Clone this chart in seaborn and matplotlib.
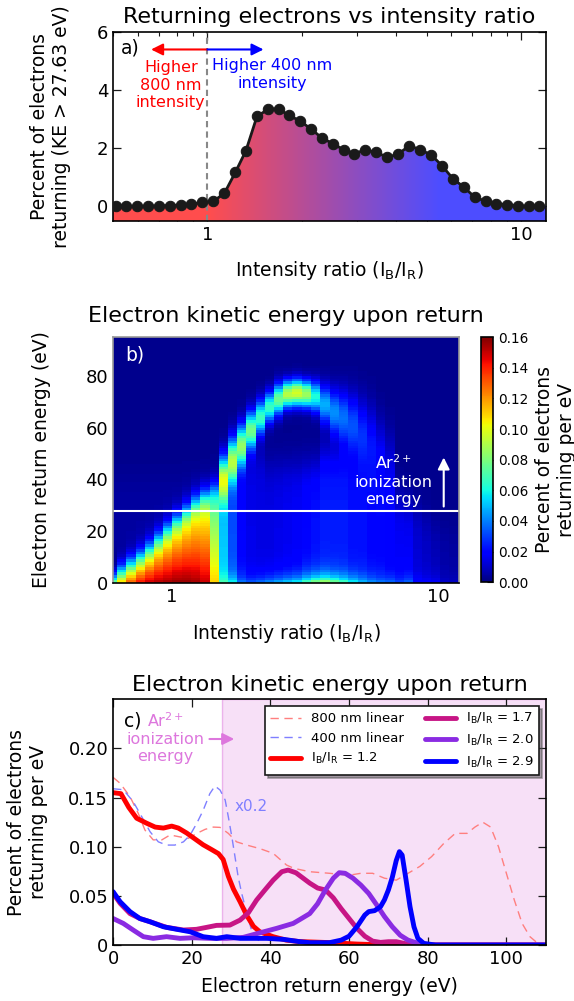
import numpy as np
import matplotlib
matplotlib.use("Agg")
import matplotlib.pyplot as plt
import seaborn as sns
from matplotlib.path import Path
from matplotlib.colors import LinearSegmentedColormap
from matplotlib.ticker import NullFormatter, LogLocator

# ---------------- data: panel a ----------------
ratio_a = [0.511, 0.550, 0.596, 0.646, 0.701, 0.758, 0.821, 0.888, 0.963, 1.044,
           1.132, 1.227, 1.327, 1.439, 1.560, 1.686, 1.823, 1.977, 2.143, 2.317,
           2.512, 2.723, 2.944, 3.192, 3.461, 3.752, 4.067, 4.409, 4.781, 5.183,
           5.605, 6.077, 6.573, 7.126, 7.726, 8.353, 9.03, 9.79, 10.58, 11.44]
pct_a = [0.0, 0.0, 0.0, 0.01, 0.02, 0.03, 0.05, 0.08, 0.14, 0.18,
         0.45, 1.17, 1.92, 3.10, 3.34, 3.36, 3.13, 2.94, 2.66, 2.36,
         2.16, 1.95, 1.82, 1.95, 1.86, 1.69, 1.81, 2.09, 1.95, 1.77,
         1.40, 0.95, 0.67, 0.32, 0.18, 0.10, 0.06, 0.03, 0.0, 0.0]
a_yticks = [0, 2, 4, 6]
a_xticks = [1, 10]
a_xticklabels = ["1", "10"]

# ---------------- data: panel b (per-column spectrum parameters) ----------------
hm_ratio = [0.596, 0.646, 0.701, 0.758, 0.821, 0.888, 0.963, 1.044, 1.132, 1.227,
            1.327, 1.439, 1.560, 1.686, 1.823, 1.977, 2.143, 2.317, 2.512, 2.723,
            2.944, 3.192, 3.461, 3.752, 4.067, 4.409, 4.781, 5.183, 5.605, 6.077,
            6.573, 7.126, 7.726, 8.353, 9.03, 9.79, 10.58, 11.44]
plat_amp = [0.10, 0.115, 0.13, 0.14, 0.145, 0.148, 0.15, 0.152, 0.152, 0.15,
            0.145, 0.105] + [0.0] * 26
plat_cut = [3, 6, 8.5, 11, 14, 17.5, 21, 24.5, 28, 31.5, 34, 37] + [1.0] * 26
ridge_E = [0] * 12 + [40, 47, 53, 59, 64, 68, 71, 73, 73.5, 73, 72, 69, 66, 64,
                      61, 57, 53, 48, 43] + [0] * 7
ridge_amp = [0] * 12 + [0.09, 0.085, 0.08, 0.075, 0.065, 0.065, 0.075, 0.09, 0.095,
                        0.085, 0.06, 0.045, 0.04, 0.035, 0.03, 0.025, 0.02,
                        0.016, 0.012] + [0] * 7
ridge_w = [1] * 12 + [6, 6, 5.5, 5, 4.5, 4, 4, 3.5, 3.5, 3.5, 4, 5, 6, 7, 8, 9, 10,
                      10, 10] + [1] * 7
low_amp = [0] * 12 + [0.02, 0.03, 0.02, 0.02, 0.025, 0.03, 0.035, 0.04, 0.045, 0.055,
                      0.065, 0.07, 0.06, 0.05, 0.04, 0.03, 0.025, 0.02, 0.02, 0.015,
                      0.02, 0.01, 0.01, 0.01, 0.005, 0.005]
floor_amp = [0.003] * 12 + [0.05, 0.03, 0.018, 0.013, 0.012, 0.012, 0.013, 0.014,
                            0.015, 0.018, 0.02, 0.022, 0.022, 0.022, 0.02, 0.02,
                            0.018, 0.018, 0.016, 0.015, 0.015, 0.01, 0.008, 0.006,
                            0.004, 0.003]
floor_cut = [40] * 12 + [34, 40, 46, 50, 50, 45, 45, 45, 45, 45, 45, 50, 50, 50, 48,
                         45, 42, 38, 35, 32, 30, 28, 25, 22, 20, 20]
base_level = 0.002
b_yticks = [0, 20, 40, 60, 80]
cbar_ticks = [0.00, 0.02, 0.04, 0.06, 0.08, 0.10, 0.12, 0.14, 0.16]
ar_threshold = 27.63

# ---------------- data: panel c ----------------
E_800 = [0, 1.8, 4.3, 6.4, 8.1, 10.2, 12.4, 14.5, 17, 19.1, 21.3, 23.4, 25.5, 27.2,
         29.3, 31.4, 34, 37.4, 40.7, 44.1, 46, 50, 55, 60, 63, 66, 69, 72, 75, 78,
         81, 84, 87, 90, 92, 94, 96, 98, 100, 102, 104, 106, 108, 110]
y_800 = [0.1706, 0.1645, 0.151, 0.134, 0.117, 0.107, 0.107, 0.112, 0.110, 0.1085,
         0.1136, 0.1177, 0.120, 0.1197, 0.1136, 0.105, 0.1017, 0.098, 0.0933, 0.0814,
         0.078, 0.0746, 0.073, 0.071, 0.073, 0.073, 0.068, 0.066, 0.073, 0.080,
         0.090, 0.103, 0.1136, 0.1136, 0.120, 0.125, 0.120, 0.100, 0.073, 0.046,
         0.022, 0.0085, 0.0017, 0.0]
E_400 = [0, 2.6, 5.1, 7.3, 9.4, 11.5, 13.6, 15.7, 17.9, 19.6, 21.3, 22.9, 24.6, 25.9,
         27.2, 28.5, 29.3, 30.2, 31, 31.8, 32.7, 34, 35.2, 36.5, 38.2, 40, 110]
y_400 = [0.159, 0.158, 0.146, 0.1305, 0.1153, 0.105, 0.1017, 0.1017, 0.105, 0.112,
         0.124, 0.137, 0.154, 0.1618, 0.1577, 0.1475, 0.1305, 0.110, 0.0898, 0.0695,
         0.0526, 0.0322, 0.0153, 0.0068, 0.0, 0.0, 0.0]
E_12 = [0, 2, 4, 6, 8.5, 10.7, 12.8, 14.9, 16.6, 18.7, 20.8, 22.9, 25.1, 26.8, 28,
        29.3, 30.6, 32.3, 34, 35.7, 37.3, 40.7, 44, 47.5, 55, 62, 70, 110]
y_12 = [0.155, 0.154, 0.140, 0.129, 0.124, 0.120, 0.119, 0.121, 0.119, 0.114,
        0.108, 0.102, 0.097, 0.093, 0.087, 0.070, 0.057, 0.044, 0.030, 0.019,
        0.0135, 0.0085, 0.005, 0.0035, 0.0025, 0.001, 0.0, 0.0]
E_17 = [0, 1.8, 4.3, 6.8, 9.4, 13.6, 17.9, 21.2, 23.8, 26.3, 29.7, 32.3, 34.4, 36.5,
        38.6, 40.7, 42.9, 44.5, 46.5, 48, 50, 52, 54, 56, 58, 60, 62, 64, 66, 68,
        70, 72, 74, 76, 110]
y_17 = [0.0526, 0.0424, 0.032, 0.027, 0.0237, 0.018, 0.0153, 0.016, 0.018, 0.020,
        0.0203, 0.0254, 0.0329, 0.0458, 0.056, 0.066, 0.0746, 0.0763, 0.0735, 0.069,
        0.063, 0.058, 0.056, 0.048, 0.037, 0.027, 0.017, 0.009, 0.004, 0.0027,
        0.0034, 0.0034, 0.0017, 0.0, 0.0]
E_20 = [0, 2.6, 5.1, 7.7, 10.2, 13.6, 17, 20.4, 24.6, 28.9, 33.1, 37.4, 41.6, 45.8,
        47.5, 50, 52, 54, 56, 57.5, 59, 61, 63, 65, 67, 69, 71, 73, 75, 77, 80, 110]
y_20 = [0.027, 0.022, 0.0153, 0.0085, 0.0068, 0.0085, 0.0068, 0.0074, 0.0068,
        0.0068, 0.0078, 0.0125, 0.017, 0.022, 0.026, 0.032, 0.042, 0.056, 0.068,
        0.0736, 0.073, 0.068, 0.061, 0.0525, 0.041, 0.029, 0.0186, 0.010, 0.005,
        0.0024, 0.0, 0.0]
E_29 = [0, 1.8, 4.3, 6.8, 9.4, 12.8, 16.2, 19.6, 22.9, 26.3, 28.9, 32.3, 35.6, 39.1,
        43.3, 47.5, 50, 55, 58, 60, 62, 64, 65, 66.5, 68, 69, 70, 71, 72, 72.8,
        73.5, 74.5, 75.5, 76.5, 77.5, 79, 82, 110]
y_29 = [0.0543, 0.044, 0.034, 0.027, 0.0237, 0.0186, 0.016, 0.0135, 0.0085, 0.0068,
        0.0085, 0.0068, 0.0068, 0.0068, 0.0058, 0.0034, 0.0024, 0.0024, 0.005, 0.009,
        0.0186, 0.0305, 0.034, 0.035, 0.039, 0.046, 0.056, 0.069, 0.086, 0.095,
        0.0915, 0.066, 0.039, 0.0186, 0.0068, 0.0017, 0.0, 0.0]
c_yticks = [0, 0.05, 0.10, 0.15, 0.20]
c_yticklabels = ["0", "0.05", "0.10", "0.15", "0.20"]
c_xticks = [0, 20, 40, 60, 80, 100]

# ---------------- style ----------------
sns.set_theme(style="ticks")
plt.rcParams["font.family"] = ["DejaVu Sans"]
plt.rcParams["mathtext.fontset"] = "dejavusans"
plt.rcParams["axes.linewidth"] = 1.2
for k in ["text.color", "axes.labelcolor", "xtick.color", "ytick.color",
          "axes.edgecolor"]:
    plt.rcParams[k] = "black"
TICK = 13
LAB = 13.5

fig = plt.figure(figsize=(5.74, 10.01), dpi=100)
fig.patch.set_facecolor("white")


def style_ticks(ax, color="k"):
    ax.tick_params(which="both", direction="in", top=True, right=True,
                   labelsize=TICK, color=color, labelcolor="black")
    ax.tick_params(which="major", length=5.5, width=0.9)
    ax.tick_params(which="minor", length=2.8, width=0.8)


ARROW = "-|>,head_length=0.5,head_width=0.25"

# ================= panel a =================
ax1 = fig.add_axes([0.1970, 0.7792, 0.7537, 0.1888])
ax1.set_xscale("log")
ax1.set_xlim(0.5, 12)
ax1.set_ylim(-0.5, 6)

grad_cmap = LinearSegmentedColormap.from_list("rb", ["#ff4d4d", "#4d4dff"])
gx = np.geomspace(0.5, 12, 400)
gc = np.log10(np.sqrt(gx[:-1] * gx[1:]))
tt = np.clip((gc - np.log10(1.0)) / (np.log10(5.5) - np.log10(1.0)), 0, 1)
gmesh = ax1.pcolormesh(gx, [-0.5, 6], tt[None, :], cmap=grad_cmap, vmin=0, vmax=1,
                       shading="flat", zorder=1)
verts = [(0.5, -0.5), (0.5, pct_a[0])] + list(zip(ratio_a, pct_a)) + \
        [(12, pct_a[-1]), (12, -0.5), (0.5, -0.5)]
gmesh.set_clip_path(Path(verts), ax1.transData)

ax1.axvline(1, color="#888888", lw=1.5, ls=(0, (3, 2)), zorder=2.5)
sns.lineplot(x=ratio_a, y=pct_a, ax=ax1, color="k", lw=2.0, marker="o",
             markersize=7.5, markeredgecolor="k", errorbar=None, zorder=4)

ax1.annotate("", xy=(0.661, 5.4), xytext=(1.0, 5.4),
             arrowprops=dict(arrowstyle=ARROW, color="red", lw=1.5, shrinkA=0,
                             shrinkB=0, mutation_scale=14))
ax1.annotate("", xy=(1.51, 5.4), xytext=(1.0, 5.4),
             arrowprops=dict(arrowstyle=ARROW, color="blue", lw=1.5, shrinkA=0,
                             shrinkB=0, mutation_scale=14))
ax1.text(0.764, 4.17, "Higher\n800 nm\nintensity", color="red", fontsize=11.5,
         ha="center", va="center")
ax1.text(1.607, 4.54, "Higher 400 nm\nintensity", color="blue", fontsize=11.5,
         ha="center", va="center")
ax1.text(0.018, 0.965, "a)", transform=ax1.transAxes, fontsize=13.5,
         ha="left", va="top")

ax1.set_xticks(a_xticks)
ax1.set_xticklabels(a_xticklabels)
ax1.xaxis.set_minor_locator(LogLocator(base=10, subs=np.arange(2, 10)))
ax1.xaxis.set_minor_formatter(NullFormatter())
ax1.set_yticks(a_yticks)
ax1.set_yticklabels([str(v) for v in a_yticks])
style_ticks(ax1)
ax1.set_title("Returning electrons vs intensity ratio", fontsize=16, pad=6.3)
ax1.set_xlabel(r"Intensity ratio (I$_\mathrm{B}$/I$_\mathrm{R}$)", fontsize=LAB)
ax1.set_ylabel("Percent of electrons\nreturning (KE > 27.63 eV)", fontsize=LAB)
ax1.xaxis.set_label_coords(0.5, -0.2)
ax1.yaxis.set_label_coords(-0.097, 0.5)

# ================= panel b =================
ax2 = fig.add_axes([0.1970, 0.4179, 0.6035, 0.2458])
ax2.set_xscale("log")
r = np.array(hm_ratio)
lr = np.log10(r)
mid = (lr[:-1] + lr[1:]) / 2
edges = np.concatenate([[lr[0] - (mid[0] - lr[0])], mid, [np.log10(12.3)]])
r_edges = 10 ** edges
E_edges = np.arange(0, 97, 1.0)
Ec = E_edges[:-1] + 0.5


def sig(x):
    return 1.0 / (1.0 + np.exp(-x))


Z = np.zeros((len(Ec), len(r)))
for i in range(len(r)):
    z = np.full_like(Ec, base_level)
    if plat_amp[i] > 0:
        z += plat_amp[i] * (1 - 0.42 * Ec / plat_cut[i]) * sig((plat_cut[i] - Ec) / 2.5)
    if ridge_amp[i] > 0:
        z += ridge_amp[i] * np.exp(-0.5 * ((Ec - ridge_E[i]) / ridge_w[i]) ** 2)
    z += low_amp[i] * np.exp(-Ec / 3.0)
    z += floor_amp[i] * sig((floor_cut[i] - Ec) / 4.0)
    Z[:, i] = z

mesh = ax2.pcolormesh(r_edges, E_edges, Z, cmap="jet", vmin=0, vmax=0.16,
                      shading="flat")
ax2.set_xlim(0.6, 12)
ax2.set_ylim(0, 95.3)
ax2.axhline(ar_threshold, color="white", lw=1.5)
ax2.annotate("", xy=(10.47, 48.5), xytext=(10.47, 29.5),
             arrowprops=dict(arrowstyle=ARROW, color="white", lw=1.5, shrinkA=0,
                             shrinkB=0, mutation_scale=14))
ax2.text(6.78, 39.7, "Ar$^{2+}$\nionization\nenergy", color="white",
         fontsize=11.5, ha="center", va="center")
ax2.text(0.035, 0.966, "b)", transform=ax2.transAxes, fontsize=13.5,
         color="white", ha="left", va="top")
ax2.set_xticks(a_xticks)
ax2.set_xticklabels(a_xticklabels)
ax2.xaxis.set_minor_locator(LogLocator(base=10, subs=np.arange(2, 10)))
ax2.xaxis.set_minor_formatter(NullFormatter())
ax2.set_yticks(b_yticks)
ax2.set_yticklabels([str(v) for v in b_yticks])
style_ticks(ax2, color="white")
for s in ["left", "right", "top"]:
    ax2.spines[s].set_color("#999999")
ax2.set_title("Electron kinetic energy upon return", fontsize=16, pad=10.8)
ax2.set_xlabel(r"Intenstiy ratio (I$_\mathrm{B}$/I$_\mathrm{R}$)", fontsize=LAB)
ax2.set_ylabel("Electron return energy (eV)", fontsize=LAB)
ax2.xaxis.set_label_coords(0.5, -0.16)
ax2.yaxis.set_label_coords(-0.178, 0.5)

cax = fig.add_axes([0.8374, 0.4184, 0.02195, 0.2448])
cb = fig.colorbar(mesh, cax=cax, ticks=cbar_ticks)
cb.ax.set_yticklabels(["%.2f" % v for v in cbar_ticks])
cb.ax.tick_params(direction="in", length=4, width=0.8, labelsize=9.8, color="k")
cb.outline.set_linewidth(1.2)
cb.set_label("Percent of electrons\nreturning per eV", fontsize=LAB)
cb.ax.yaxis.set_label_coords(4.3, 0.5)

# ================= panel c =================
ax3 = fig.add_axes([0.1970, 0.0559, 0.7537, 0.2455])
ax3.axvspan(ar_threshold, 110, facecolor=(0.75, 0.0, 0.75, 0.12),
            edgecolor=(0.75, 0.0, 0.75, 0.25), lw=1, zorder=0)
sns.lineplot(x=E_800, y=y_800, ax=ax3, color="#ff7f7f", lw=1.0,
             linestyle=(0, (6, 4)), label="800 nm linear", errorbar=None)
sns.lineplot(x=E_400, y=y_400, ax=ax3, color="#7f7fff", lw=1.0,
             linestyle=(0, (6, 4)), label="400 nm linear", errorbar=None)
sns.lineplot(x=E_12, y=y_12, ax=ax3, color="#ff0000", lw=3.5,
             label=r"I$_\mathrm{B}$/I$_\mathrm{R}$ = 1.2", errorbar=None)
sns.lineplot(x=E_17, y=y_17, ax=ax3, color="#c71585", lw=3.5,
             label=r"I$_\mathrm{B}$/I$_\mathrm{R}$ = 1.7", errorbar=None)
sns.lineplot(x=E_20, y=y_20, ax=ax3, color="#8a2be2", lw=3.5,
             label=r"I$_\mathrm{B}$/I$_\mathrm{R}$ = 2.0", errorbar=None)
sns.lineplot(x=E_29, y=y_29, ax=ax3, color="#0000ff", lw=3.5,
             label=r"I$_\mathrm{B}$/I$_\mathrm{R}$ = 2.9", errorbar=None)
ax3.set_xlim(0, 110)
ax3.set_ylim(0, 0.25)
leg = ax3.legend(loc="upper right", ncol=2, fontsize=9.5, shadow=True,
                 fancybox=False, framealpha=1, edgecolor="k",
                 handlelength=2.3, columnspacing=1.6, borderaxespad=0.5)
leg.get_frame().set_linewidth(1.2)
leg.set_zorder(6)
ax3.text(13.35, 0.2096 + 0.0185, "Ar$^{2+}$", color="#dd77dd",
         fontsize=11.5, ha="center", va="center")
ax3.text(13.35, 0.2096 - 0.0093, "ionization\nenergy", color="#dd77dd",
         fontsize=11.5, ha="center", va="center")
ax3.annotate("", xy=(30.8, 0.2096), xytext=(24.5, 0.2096),
             arrowprops=dict(arrowstyle=ARROW, color="#dd77dd", lw=1.5,
                             shrinkA=0, shrinkB=0, mutation_scale=14))
ax3.text(30.8, 0.1407, "x0.2", color="#7f7fff", fontsize=11, ha="left",
         va="center")
ax3.text(0.0245, 0.952, "c)", transform=ax3.transAxes, fontsize=13.5,
         ha="left", va="top")
ax3.set_xticks(c_xticks)
ax3.set_xticklabels([str(v) for v in c_xticks])
ax3.set_yticks(c_yticks)
ax3.set_yticklabels(c_yticklabels)
style_ticks(ax3)
ax3.set_title("Electron kinetic energy upon return", fontsize=16, pad=6)
ax3.set_xlabel("Electron return energy (eV)", fontsize=LAB)
ax3.set_ylabel("Percent of electrons\nreturning per eV", fontsize=LAB)
ax3.xaxis.set_label_coords(0.5, -0.13)
ax3.yaxis.set_label_coords(-0.151, 0.5)

fig.savefig("out.png", dpi=100)
